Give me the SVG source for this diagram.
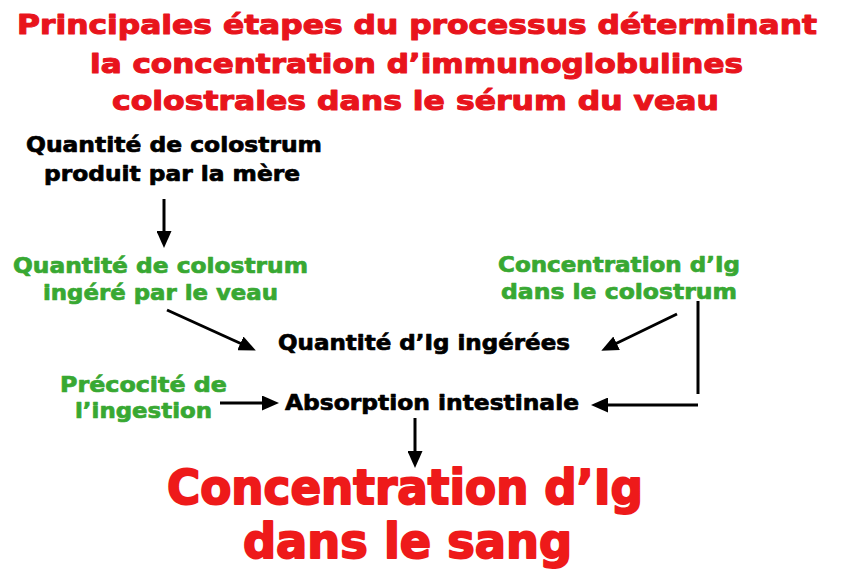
<svg xmlns="http://www.w3.org/2000/svg" width="844" height="576" viewBox="0 0 844 576">
<style>
text{font-family:"DejaVu Sans","Liberation Sans",sans-serif;font-weight:bold;paint-order:stroke;stroke-linejoin:round;}
.t{fill:#e8141c;stroke:#e8141c;stroke-width:1.1;font-size:27px;}
.b{fill:#000;stroke:#000;stroke-width:0.7;font-size:21px;}
.g{fill:#38a832;stroke:#38a832;stroke-width:0.7;font-size:21px;}
.r{fill:#ee1a1a;stroke:#ee1a1a;stroke-width:2;font-size:48px;}
.c line{stroke:#000;stroke-width:3;fill:none;marker-end:url(#ah);}
</style>
<defs>
<marker id="ah" markerUnits="userSpaceOnUse" markerWidth="17" markerHeight="15" refX="4" refY="7.5" orient="auto">
<path d="M0,0 L17,7.5 L0,15 z" fill="#000"/>
</marker>
</defs>
<rect width="844" height="576" fill="#fff"/>
<g id="title">
<text class="t" x="17" y="34" textLength="800" lengthAdjust="spacingAndGlyphs">Principales étapes du processus déterminant</text>
<text class="t" x="90" y="73" textLength="653" lengthAdjust="spacingAndGlyphs">la concentration d’immunoglobulines</text>
<text class="t" x="112" y="110" textLength="607" lengthAdjust="spacingAndGlyphs">colostrales dans le sérum du veau</text>
</g>
<g id="n-mere">
<text class="b" x="26" y="152" textLength="296" lengthAdjust="spacingAndGlyphs">Quantité de colostrum</text>
<text class="b" x="44" y="181" textLength="256" lengthAdjust="spacingAndGlyphs">produit par la mère</text>
</g>
<g id="n-ingere">
<text class="g" x="13" y="273" textLength="295" lengthAdjust="spacingAndGlyphs">Quantité de colostrum</text>
<text class="g" x="43" y="300" textLength="235" lengthAdjust="spacingAndGlyphs">ingéré par le veau</text>
</g>
<g id="n-conc-colo">
<text class="g" x="498" y="272" textLength="242" lengthAdjust="spacingAndGlyphs">Concentration d’Ig</text>
<text class="g" x="501" y="299" textLength="236" lengthAdjust="spacingAndGlyphs">dans le colostrum</text>
</g>
<g id="n-qte-ig">
<text class="b" x="278" y="350" textLength="292" lengthAdjust="spacingAndGlyphs">Quantité d’Ig ingérées</text>
</g>
<g id="n-precocite">
<text class="g" x="60" y="392" textLength="167" lengthAdjust="spacingAndGlyphs">Précocité de</text>
<text class="g" x="75" y="418" textLength="137" lengthAdjust="spacingAndGlyphs">l’ingestion</text>
</g>
<g id="n-absorption">
<text class="b" x="285" y="410" textLength="294" lengthAdjust="spacingAndGlyphs">Absorption intestinale</text>
</g>
<g id="n-sang">
<text class="r" x="167" y="504" textLength="476" lengthAdjust="spacingAndGlyphs">Concentration d’Ig</text>
<text class="r" x="243" y="558" textLength="329" lengthAdjust="spacingAndGlyphs">dans le sang</text>
</g>
<g id="connectors" class="c">
<line x1="164" y1="199" x2="164" y2="235"/>
<line x1="167" y1="310" x2="244" y2="345"/>
<line x1="677" y1="314" x2="613" y2="345"/>
<line x1="698" y1="301" x2="698" y2="394" style="marker-end:none"/>
<line x1="698" y1="405" x2="604" y2="405"/>
<line x1="220" y1="403" x2="266" y2="403"/>
<line x1="415" y1="418" x2="415" y2="455"/>
</g>
</svg>
